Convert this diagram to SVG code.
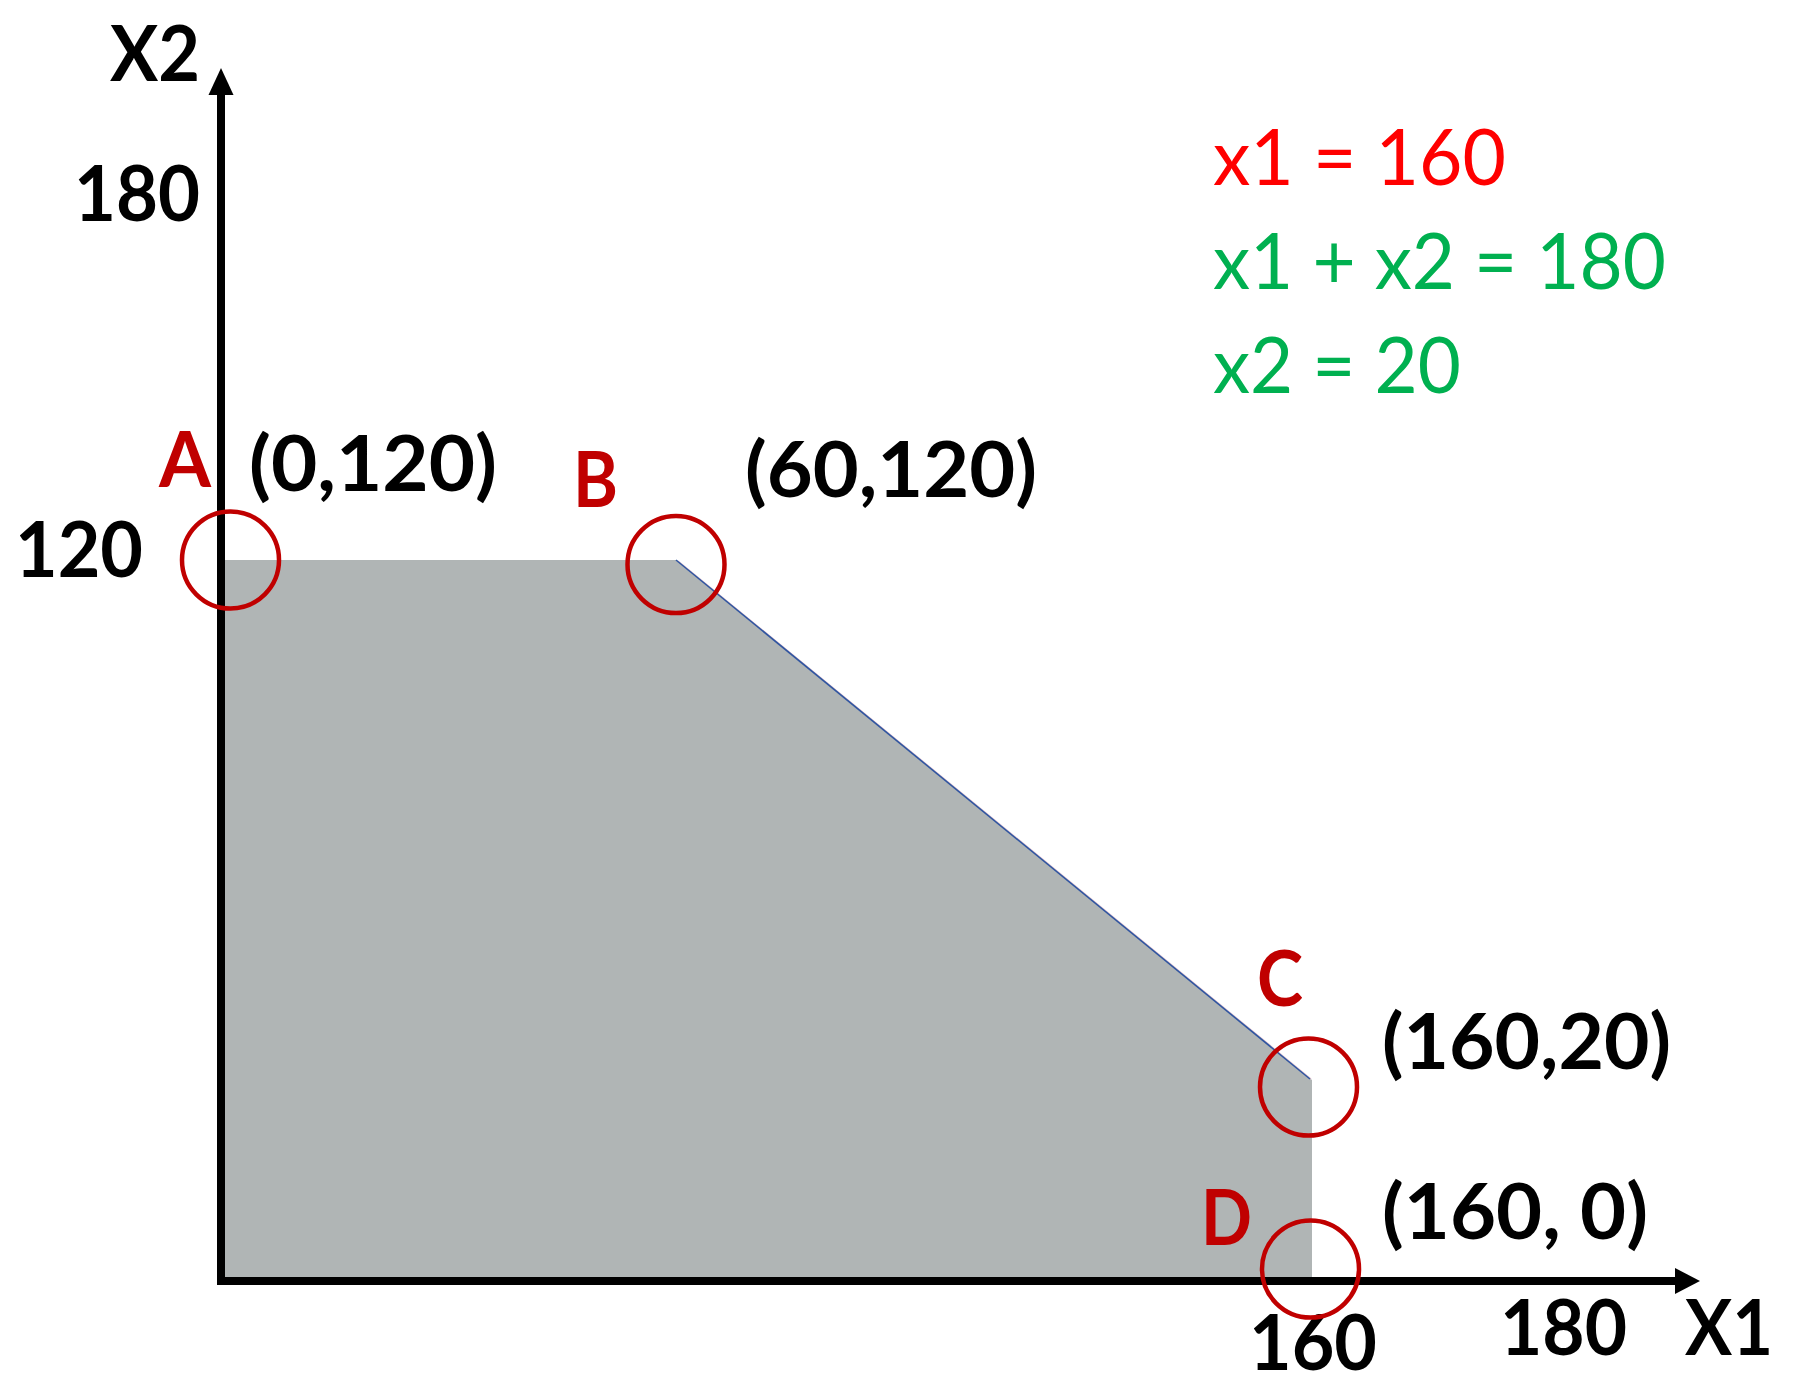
<svg xmlns="http://www.w3.org/2000/svg" width="1793" height="1385" viewBox="0 0 1793 1385">
<defs>
<style>
.b{font-family:Lato,"Open Sans","Liberation Sans",sans-serif;font-weight:700;font-size:77px;fill:#000}
.pt{font-family:Lato,"Open Sans","Liberation Sans",sans-serif;font-weight:700;font-size:77px;fill:#C00000}
.eq{font-family:Lato,"Open Sans","Liberation Sans",sans-serif;font-weight:400;font-size:77px}
.ring{fill:none;stroke:#C00000;stroke-width:4.5}
.axis{stroke:#000;stroke-width:8;fill:none}
</style>
</defs>
<rect width="1793" height="1385" fill="#fff"/>
<g id="region">
<polygon points="225,560 676,560 1312,1080 1312,1277 225,1277" fill="#B0B5B5"/>
<line x1="678" y1="561" x2="1311" y2="1079" stroke="#E8C8D0" stroke-width="1.5"/>
<line x1="676" y1="560" x2="1310" y2="1079" stroke="#2F55A0" stroke-width="1.6"/>
</g>
<g id="connectors">
<line class="axis" x1="221" y1="93" x2="221" y2="1285"/>
<line class="axis" x1="217" y1="1281" x2="1677" y2="1281"/>
<polygon points="221,68 208.5,95 233.5,95" fill="#000"/>
<polygon points="1700,1281 1675,1268 1675,1294" fill="#000"/>
</g>
<g id="axis-labels">
<text class="b" x="110" y="81" textLength="90" lengthAdjust="spacingAndGlyphs">X2</text>
<text class="b" x="74" y="221" textLength="126" lengthAdjust="spacingAndGlyphs">180</text>
<text class="b" x="15" y="577" textLength="128" lengthAdjust="spacingAndGlyphs">120</text>
<text class="b" x="1249" y="1370" textLength="128" lengthAdjust="spacingAndGlyphs">160</text>
<text class="b" x="1500" y="1355" textLength="127" lengthAdjust="spacingAndGlyphs">180</text>
<text class="b" x="1685" y="1355" textLength="88" lengthAdjust="spacingAndGlyphs">X1</text>
</g>
<g id="point-A">
<circle class="ring" cx="230.5" cy="560" r="48.5"/>
<text class="pt" x="159" y="487" textLength="52" lengthAdjust="spacingAndGlyphs">A</text>
<text class="b" x="249" y="491" textLength="248" lengthAdjust="spacingAndGlyphs">(0,120)</text>
</g>
<g id="point-B">
<circle class="ring" cx="676" cy="564.5" r="48.5"/>
<text class="pt" x="573" y="507" textLength="45" lengthAdjust="spacingAndGlyphs">B</text>
<text class="b" x="745" y="497" textLength="292" lengthAdjust="spacingAndGlyphs">(60,120)</text>
</g>
<g id="point-C">
<circle class="ring" cx="1308.5" cy="1087" r="48.5"/>
<text class="pt" x="1257" y="1006" textLength="46" lengthAdjust="spacingAndGlyphs">C</text>
<text class="b" x="1382" y="1069" textLength="289" lengthAdjust="spacingAndGlyphs">(160,20)</text>
</g>
<g id="point-D">
<circle class="ring" cx="1310.5" cy="1269" r="48.5"/>
<text class="pt" x="1201" y="1245" textLength="51" lengthAdjust="spacingAndGlyphs">D</text>
<text class="b" x="1382" y="1239" textLength="266" lengthAdjust="spacingAndGlyphs">(160, 0)</text>
</g>
<g id="equations">
<text class="eq" x="1213" y="185" fill="#FF0000" textLength="293" lengthAdjust="spacingAndGlyphs">x1 = 160</text>
<text class="eq" x="1213" y="289" fill="#00B050" textLength="453" lengthAdjust="spacingAndGlyphs">x1 + x2 = 180</text>
<text class="eq" x="1213" y="393" fill="#00B050" textLength="248" lengthAdjust="spacingAndGlyphs">x2 = 20</text>
</g>
</svg>
